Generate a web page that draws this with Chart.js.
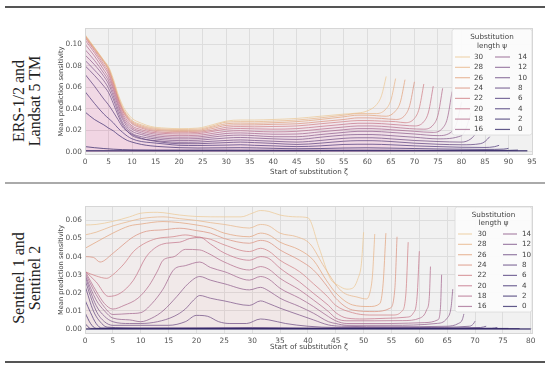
<!DOCTYPE html>
<html>
<head>
<meta charset="utf-8">
<script src="https://cdn.jsdelivr.net/npm/chart.js@4.4.0/dist/chart.umd.min.js"></script>
<style>
  body { margin: 0; background: #fff; width: 550px; height: 368px; position: relative; overflow: hidden; }
  canvas { position: absolute; left: 0; }
  .rule { position: absolute; left: 5px; width: 540px; }
  .side { position: absolute; width: 130px; height: 34px; font-family: 'Liberation Serif', serif; font-size: 16px;
          line-height: 16px; text-align: center; color: #222; transform: rotate(-90deg); white-space: nowrap; }
</style>
</head>
<body>
<div class="rule" style="top:6px;height:1.5px;background:#555"></div>
<div class="rule" style="top:182px;height:2px;background:#aaa"></div>
<div class="rule" style="top:361px;height:2px;background:#555"></div>
<div class="side" style="left:-37px;top:84px">ERS-1/2 and<br>Landsat 5 TM</div>
<div class="side" style="left:-37px;top:261px">Sentinel 1 and<br>Sentinel 2</div>
<canvas id="top" width="550" height="180" style="top:0"></canvas>
<canvas id="bot" width="550" height="171" style="top:184px"></canvas>
<script>
// substitution lengths, legend order
const psi = [30, 28, 26, 24, 22, 20, 18, 16, 14, 12, 10, 8, 6, 4, 2, 0];

// ERS-1/2 and Landsat 5 TM: [start ζ, mean sensitivity]
const top30 = [[0,0.109],[2,0.097],[4,0.085],[5,0.079],[6,0.068],[7,0.054],[8,0.043],[9,0.036],[10,0.031],[12,0.0265],[14,0.0235],[17,0.022],[20,0.0215],[24,0.022],[27,0.025],[30,0.0285],[33,0.0295],[36,0.0295],[40,0.030],[45,0.031],[50,0.033],[55,0.035],[58,0.036],[60,0.038],[62,0.044],[63,0.052],[64,0.070]];
const top28 = [[0,0.108],[2,0.0965],[4,0.0845],[5,0.078],[6,0.066],[7,0.052],[8,0.041],[9,0.034],[10,0.029],[12,0.025],[14,0.0225],[17,0.021],[20,0.0207],[24,0.021],[27,0.0238],[30,0.0275],[33,0.028],[36,0.028],[40,0.0285],[45,0.0295],[50,0.0315],[55,0.034],[58,0.0355],[60,0.0355],[62,0.0355],[64,0.040],[65,0.048],[66,0.068]];
const top26 = [[0,0.108],[2,0.096],[4,0.084],[5,0.077],[6,0.065],[7,0.051],[8,0.040],[9,0.033],[10,0.028],[12,0.024],[14,0.0215],[17,0.0202],[20,0.0198],[24,0.020],[27,0.0228],[30,0.026],[33,0.0266],[36,0.0265],[40,0.027],[45,0.028],[50,0.030],[55,0.0325],[58,0.034],[60,0.034],[62,0.0335],[64,0.033],[66,0.038],[67,0.046],[68,0.067]];
const top24 = [[0,0.107],[2,0.095],[4,0.083],[5,0.076],[6,0.064],[7,0.050],[8,0.039],[9,0.032],[10,0.027],[12,0.023],[14,0.0205],[17,0.0192],[20,0.0188],[24,0.019],[27,0.0215],[30,0.0245],[33,0.025],[36,0.025],[40,0.0255],[45,0.026],[50,0.028],[55,0.030],[58,0.0315],[60,0.0315],[63,0.031],[66,0.030],[68,0.034],[69,0.043],[70,0.065]];
const top22 = [[0,0.106],[2,0.094],[4,0.081],[5,0.074],[6,0.062],[7,0.049],[8,0.038],[9,0.031],[10,0.026],[12,0.022],[14,0.0195],[17,0.018],[20,0.0177],[24,0.018],[27,0.020],[30,0.0228],[33,0.0234],[36,0.0232],[40,0.0235],[45,0.024],[50,0.026],[55,0.028],[58,0.029],[60,0.029],[63,0.0285],[66,0.028],[68,0.027],[70,0.031],[71,0.040],[72,0.063]];
const top20 = [[0,0.104],[2,0.092],[4,0.079],[5,0.072],[6,0.060],[7,0.047],[8,0.036],[9,0.029],[10,0.024],[12,0.0205],[14,0.0182],[17,0.017],[20,0.0165],[24,0.0168],[27,0.0188],[30,0.021],[33,0.0216],[36,0.0213],[40,0.021],[45,0.0215],[50,0.0235],[55,0.0255],[58,0.0265],[61,0.0265],[65,0.0255],[68,0.0245],[70,0.024],[72,0.028],[73,0.037],[74,0.061]];
const top18 = [[0,0.100],[2,0.089],[4,0.076],[5,0.069],[6,0.058],[7,0.045],[8,0.034],[9,0.027],[10,0.0225],[12,0.019],[14,0.017],[17,0.0155],[20,0.015],[24,0.0153],[27,0.017],[30,0.019],[33,0.0196],[36,0.019],[40,0.0185],[45,0.019],[50,0.021],[55,0.023],[58,0.024],[61,0.024],[65,0.023],[69,0.0215],[72,0.021],[74,0.025],[75,0.034],[76,0.059]];
const top16 = [[0,0.095],[2,0.085],[4,0.073],[5,0.066],[6,0.055],[7,0.043],[8,0.032],[9,0.025],[10,0.021],[12,0.0175],[14,0.0155],[17,0.014],[20,0.0135],[24,0.0138],[27,0.0153],[30,0.017],[33,0.0175],[36,0.017],[40,0.0163],[45,0.0165],[50,0.0185],[55,0.0205],[58,0.0215],[61,0.0215],[65,0.0205],[70,0.019],[74,0.018],[76,0.022],[77,0.031],[78,0.056]];
const top14 = [[0,0.090],[2,0.081],[4,0.070],[5,0.063],[6,0.052],[7,0.040],[8,0.030],[9,0.023],[10,0.019],[12,0.016],[14,0.014],[17,0.0125],[20,0.012],[24,0.0123],[27,0.0136],[30,0.015],[33,0.0155],[36,0.015],[40,0.014],[45,0.014],[50,0.016],[55,0.018],[58,0.019],[61,0.019],[65,0.018],[70,0.0165],[75,0.015],[78,0.019],[79,0.027],[80,0.046]];
const top12 = [[0,0.085],[2,0.076],[4,0.066],[5,0.059],[6,0.049],[7,0.037],[8,0.027],[9,0.021],[10,0.017],[12,0.014],[14,0.0125],[17,0.011],[20,0.0104],[24,0.0107],[27,0.0118],[30,0.0128],[33,0.0133],[36,0.0128],[40,0.012],[45,0.0115],[50,0.0135],[55,0.0155],[58,0.016],[61,0.016],[65,0.015],[70,0.0135],[75,0.012],[80,0.015],[81,0.022],[82,0.036]];
const top10 = [[0,0.080],[2,0.071],[4,0.061],[5,0.055],[6,0.045],[7,0.034],[8,0.025],[9,0.019],[10,0.015],[12,0.012],[14,0.0108],[17,0.0095],[20,0.0088],[24,0.009],[27,0.0098],[30,0.0105],[33,0.011],[36,0.0105],[40,0.0098],[45,0.009],[50,0.0105],[55,0.0125],[58,0.013],[61,0.013],[65,0.012],[70,0.0105],[75,0.0095],[80,0.009],[82,0.012],[83,0.017],[84,0.026]];
const top8 = [[0,0.072],[2,0.061],[4,0.049],[5,0.0436],[6,0.037],[7,0.030],[8,0.023],[9,0.019],[10,0.016],[12,0.0125],[14,0.0105],[17,0.0085],[20,0.0075],[24,0.0075],[27,0.008],[30,0.0085],[33,0.009],[36,0.0085],[40,0.0078],[45,0.0068],[50,0.008],[55,0.0098],[58,0.0103],[61,0.0103],[65,0.0095],[70,0.008],[75,0.007],[80,0.0065],[84,0.0075],[85,0.0095],[86,0.014]];
const top6 = [[0,0.056],[2,0.045],[4,0.035],[5,0.031],[6,0.027],[7,0.022],[8,0.018],[9,0.0145],[10,0.012],[12,0.0095],[14,0.0085],[17,0.0072],[20,0.006],[24,0.0058],[27,0.006],[30,0.0062],[33,0.0065],[36,0.006],[40,0.0055],[45,0.0048],[50,0.0055],[55,0.0068],[58,0.007],[61,0.007],[65,0.0065],[70,0.0055],[75,0.0048],[80,0.0042],[85,0.004],[87,0.0047],[88,0.006]];
const top4 = [[0,0.037],[2,0.030],[4,0.025],[5,0.022],[6,0.0195],[7,0.016],[8,0.013],[9,0.0105],[10,0.009],[12,0.0068],[14,0.0055],[17,0.0045],[20,0.0038],[24,0.0035],[30,0.0037],[33,0.0038],[40,0.0032],[45,0.0028],[50,0.003],[55,0.0035],[60,0.0037],[65,0.0034],[70,0.003],[75,0.0026],[80,0.0024],[85,0.0022],[89,0.0025],[90,0.0032]];
const top2 = [[0,0.0048],[2,0.0038],[4,0.003],[6,0.0024],[8,0.002],[10,0.0018],[15,0.0016],[30,0.0016],[45,0.0014],[60,0.0015],[75,0.0013],[90,0.0013],[92,0.0016]];
const top0 = [[0,0.001],[94,0.001]];

// Sentinel 1 and Sentinel 2
const bot30 = [[0,0.0575],[2,0.0578],[5,0.0595],[8,0.062],[10,0.064],[13,0.0645],[17,0.063],[20,0.0622],[25,0.062],[28,0.062],[30,0.064],[31.5,0.0655],[33,0.065],[35,0.063],[38,0.062],[40,0.0615],[42,0.045],[44,0.028],[45.5,0.024],[47,0.022],[48,0.0225],[49,0.028],[49.6,0.036],[50,0.0535]];
const bot28 = [[0,0.052],[2,0.0535],[5,0.057],[8,0.0595],[10,0.061],[14,0.062],[17,0.061],[20,0.060],[22.5,0.0588],[25,0.0578],[29.5,0.0558],[31.5,0.0578],[33,0.057],[35,0.053],[38,0.051],[40.4,0.047],[43,0.034],[46,0.021],[49,0.0175],[50.5,0.0166],[51.2,0.021],[51.6,0.030],[52,0.0525]];
const bot26 = [[0,0.0446],[2,0.048],[5,0.053],[8,0.057],[10,0.058],[14,0.0594],[17,0.0588],[20,0.0575],[22.5,0.056],[25,0.053],[29.5,0.051],[31.5,0.053],[33,0.052],[35,0.048],[38.5,0.0437],[41,0.038],[43.3,0.027],[45,0.020],[48,0.0133],[51,0.0124],[52.9,0.014],[53.5,0.025],[54,0.053]];
const bot24 = [[0,0.040],[1.5,0.0396],[2.7,0.037],[5,0.0418],[7,0.047],[8.7,0.051],[11,0.054],[14,0.0548],[17,0.0557],[20,0.0544],[22.5,0.053],[25,0.050],[29.5,0.0474],[31.5,0.049],[33,0.048],[35,0.0437],[38.5,0.038],[41,0.0326],[43.5,0.0234],[45,0.017],[48,0.0105],[52,0.0096],[54.7,0.0114],[55.6,0.022],[56,0.051]];
const bot22 = [[0,0.0317],[2,0.0293],[3.9,0.028],[5,0.030],[7,0.036],[8.7,0.0428],[10.5,0.047],[12.9,0.050],[15.8,0.051],[18,0.052],[20,0.051],[22.5,0.0496],[25,0.0465],[29.5,0.0428],[31.5,0.0446],[33,0.043],[35,0.038],[38.5,0.0317],[41,0.025],[43.5,0.018],[45,0.013],[48,0.009],[51,0.0077],[55.3,0.0077],[56.8,0.0096],[57.6,0.020],[58,0.048]];
const bot20 = [[0,0.032],[2,0.026],[4.2,0.018],[6.3,0.0197],[8.7,0.027],[11,0.040],[12.9,0.0455],[14.6,0.0474],[17,0.048],[18.8,0.050],[20.6,0.0507],[22.5,0.047],[25,0.042],[29.5,0.038],[31.5,0.040],[33,0.039],[35,0.0336],[38.5,0.026],[41,0.0197],[43.7,0.013],[45,0.009],[47,0.006],[50,0.0055],[54,0.0059],[57.7,0.0065],[58.9,0.0087],[59.6,0.018],[60,0.043]];
const bot18 = [[0,0.032],[2,0.021],[3.5,0.014],[5,0.011],[7,0.013],[9.5,0.017],[11.5,0.024],[13,0.032],[14,0.038],[16,0.040],[18,0.044],[20.6,0.0437],[22,0.042],[25,0.037],[29.5,0.0326],[31.5,0.0345],[33,0.033],[35,0.028],[38.5,0.0216],[41,0.016],[43.7,0.0096],[45,0.006],[47,0.0045],[52,0.0045],[57,0.0046],[60.1,0.006],[61.3,0.0105],[61.8,0.018],[62,0.0345]];
const bot16 = [[0,0.031],[2,0.019],[3.5,0.012],[5,0.008],[8,0.0085],[10,0.009],[12,0.014],[14,0.022],[16,0.033],[18,0.035],[20.6,0.037],[22.5,0.034],[25,0.0317],[29.5,0.027],[31.5,0.029],[33,0.0275],[35,0.0225],[38.5,0.017],[41,0.0124],[43.7,0.0068],[45,0.0045],[47,0.003],[55,0.003],[61,0.0035],[63.3,0.005],[63.8,0.012],[64,0.030]];
const bot14 = [[0,0.030],[2,0.016],[3.5,0.010],[5,0.006],[8,0.005],[10,0.004],[12,0.006],[14,0.010],[16.5,0.018],[18.5,0.025],[20.6,0.029],[22.5,0.027],[25,0.025],[29.5,0.0216],[31.5,0.023],[33,0.021],[35,0.017],[38.5,0.0124],[41,0.0087],[43.7,0.004],[45,0.003],[47,0.002],[55,0.002],[63,0.003],[65,0.006],[65.7,0.012],[66,0.022]];
const bot12 = [[0,0.029],[2,0.013],[3.5,0.007],[5,0.004],[8,0.003],[10,0.003],[13,0.004],[16,0.007],[18,0.011],[19.5,0.016],[20.6,0.0185],[22.5,0.017],[25,0.0155],[29.5,0.013],[31.5,0.0155],[33,0.014],[35,0.0115],[38.5,0.0077],[41,0.005],[43.7,0.0022],[46,0.0015],[55,0.0012],[65,0.0015],[67,0.003],[67.7,0.005],[68,0.0083]];
const bot10 = [[0,0.027],[2,0.010],[3.5,0.004],[5,0.002],[10,0.002],[15,0.002],[18,0.004],[20,0.0075],[22,0.007],[24,0.004],[26,0.003],[29,0.003],[31.5,0.0055],[33,0.005],[36,0.003],[40,0.0015],[45,0.0008],[60,0.0008],[69,0.0015],[69.7,0.0028],[70,0.0043]];
const bot8 = [[0,0.024],[1.5,0.010],[3,0.003],[4,0.001],[10,0.0005],[20,0.0006],[30,0.0008],[40,0.0005],[60,0.0005],[71,0.0008],[72,0.0015]];
const bot6 = [[0,0.016],[1,0.009],[2,0.003],[3,0.0005],[20,0.0003],[50,0.0003],[73,0.0004],[74,0.0008]];
const bot4 = [[0,0.009],[1,0.003],[2,0.0003],[76,0.0003]];
const bot2 = [[0,0.003],[1,0.0003],[78,0.0002]];
const bot0 = [[0,0],[80,0]];

const topLines = [top30, top28, top26, top24, top22, top20, top18, top16, top14, top12, top10, top8, top6, top4, top2, top0];
const botLines = [bot30, bot28, bot26, bot24, bot22, bot20, bot18, bot16, bot14, bot12, bot10, bot8, bot6, bot4, bot2, bot0];

const stops = [[0,[45,35,100]],[0.2,[82,62,125]],[0.4,[128,90,140]],[0.55,[168,108,146]],[0.7,[206,124,140]],[0.85,[226,160,125]],[1,[236,202,152]]];
function psiColor(p, a) {
  const t = p / 30;
  let i = 0;
  while (i < stops.length - 2 && t > stops[i + 1][0]) i++;
  const [t0, c0] = stops[i], [t1, c1] = stops[i + 1];
  const f = (t - t0) / (t1 - t0);
  const c = c0.map((v, k) => Math.round(v + (c1[k] - v) * f));
  return `rgba(${c[0]},${c[1]},${c[2]},${a})`;
}

Chart.defaults.font.family = "'DejaVu Sans', sans-serif";
Chart.defaults.color = '#555';

const frame = {
  id: 'frame',
  beforeDraw(chart) {
    const {ctx, chartArea: a} = chart;
    ctx.save();
    ctx.fillStyle = '#f1f1f1';
    ctx.fillRect(a.left, a.top, a.right - a.left, a.bottom - a.top);
    ctx.restore();
  },
  afterDraw(chart) {
    const {ctx, chartArea: a} = chart;
    ctx.save();
    ctx.strokeStyle = '#d6d6d6';
    ctx.lineWidth = 1;
    ctx.strokeRect(a.left + 0.5, a.top + 0.5, a.right - a.left - 1, a.bottom - a.top - 1);
    ctx.restore();
  }
};

const psiLegend = {
  id: 'psiLegend',
  afterDatasetsDraw(chart, args, o) {
    const ctx = chart.ctx;
    ctx.save();
    ctx.beginPath();
    ctx.roundRect(o.x, o.y, o.w, o.h, 2.5);
    ctx.fillStyle = 'rgba(252,252,252,0.92)';
    ctx.fill();
    ctx.strokeStyle = '#dadada';
    ctx.lineWidth = 0.8;
    ctx.stroke();
    ctx.font = "7.2px 'DejaVu Sans'";
    ctx.fillStyle = '#444';
    ctx.textAlign = 'center';
    ctx.textBaseline = 'middle';
    const cx = o.x + o.w / 2;
    ctx.fillText('Substitution', cx, o.t1);
    ctx.fillText('length \u03c8', cx, o.t1 + 8.6);
    ctx.textAlign = 'left';
    chart.data.datasets.forEach((ds, i) => {
      const col = i < 8 ? 0 : 1, row = i % 8;
      const y = o.r0 + row * o.dr;
      ctx.strokeStyle = ds.borderColor;
      ctx.lineWidth = 1.2;
      ctx.beginPath();
      ctx.moveTo(o.lx[col], y);
      ctx.lineTo(o.lx[col] + o.lw, y);
      ctx.stroke();
      ctx.fillStyle = '#444';
      ctx.fillText(ds.label, o.tx[col], y);
    });
    ctx.restore();
  }
};

function makeChart(id, lines, opt) {
  const datasets = lines.map((pts, i) => ({
    label: String(psi[i]),
    data: pts.map(([x, y]) => ({x, y})),
    borderColor: psiColor(psi[i], 0.75),
    backgroundColor: `rgba(232,110,150,${opt.haze})`,
    borderWidth: psi[i] === 0 ? 1.6 : 1.0,
    pointRadius: 0,
    fill: 'origin',
    cubicInterpolationMode: 'monotone',
    order: psi[i]
  }));
  return new Chart(document.getElementById(id), {
    type: 'line',
    data: {datasets},
    plugins: [frame, psiLegend],
    options: {
      responsive: false,
      animation: false,
      devicePixelRatio: 1,
      layout: {padding: {left: 52, right: 17, top: opt.padTop, bottom: 0}},
      plugins: {legend: {display: false}, tooltip: {enabled: false}, filler: {drawTime: 'beforeDatasetsDraw'}, psiLegend: opt.legend},
      scales: {
        x: {
          type: 'linear', min: 0, max: opt.xMax,
          ticks: {stepSize: 5, includeBounds: false, padding: 3, font: {size: 7.4}, maxRotation: 0},
          grid: {color: '#dddddd', drawTicks: false},
          border: {display: false},
          title: {display: true, text: 'Start of substitution \u03b6', font: {size: 7.2}, color: '#444', padding: {top: 0, bottom: 3.7}},
          afterFit: s => { s.height = opt.xH; }
        },
        y: {
          min: opt.yMin, max: opt.yMax,
          ticks: {stepSize: opt.yStep, includeBounds: false, padding: 3, font: {size: 7.4}, callback: v => v.toFixed(2)},
          grid: {color: '#dddddd', drawTicks: false},
          border: {display: false},
          title: {display: true, text: 'Mean prediction sensitivity', font: {size: 6.7}, color: '#444', padding: {top: 5, bottom: 0}},
          afterFit: s => { s.width = 33; }
        }
      }
    }
  });
}

makeChart('top', topLines, {
  padTop: 28, xH: 25, xMax: 95.2, yMin: -0.003, yMax: 0.115, yStep: 0.02, haze: 0.012,
  legend: {x: 452, y: 29, w: 80, h: 106, t1: 37.5, r0: 57, dr: 10.35, lx: [455, 495], lw: 15, tx: [474, 518]}
});
makeChart('bot', botLines, {
  padTop: 22, xH: 21, xMax: 80.4, yMin: -0.0028, yMax: 0.068, yStep: 0.01, haze: 0.006,
  legend: {x: 455, y: 23, w: 77, h: 105, t1: 31, r0: 50, dr: 10.35, lx: [458, 503], lw: 14, tx: [477.5, 522]}
});
</script>
</body>
</html>
